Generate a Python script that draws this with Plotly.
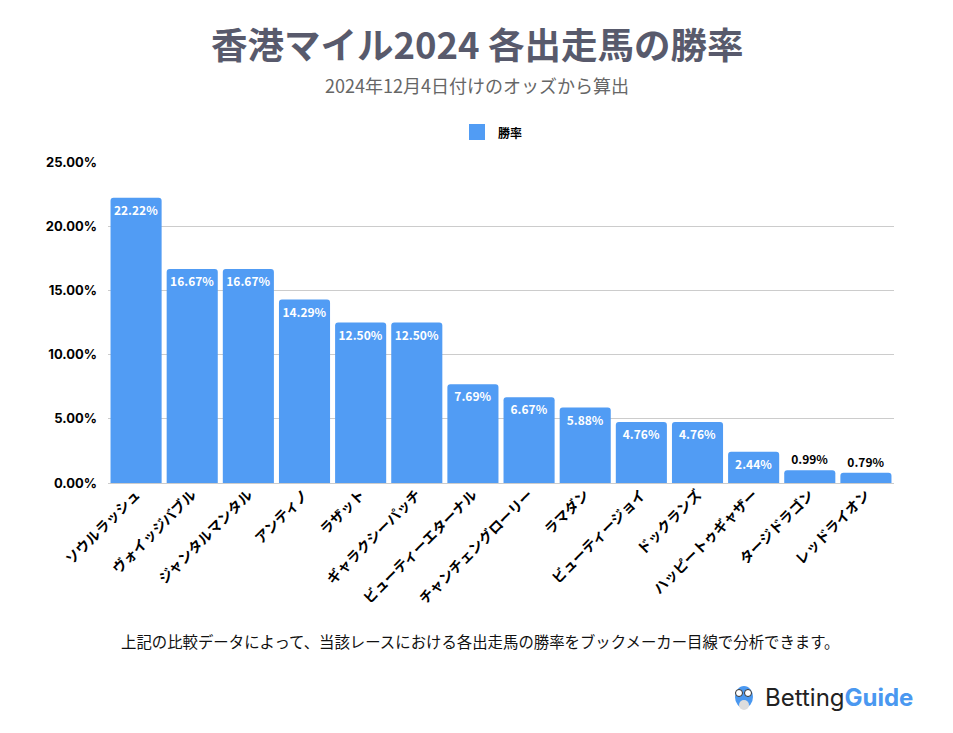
import plotly.graph_objects as go

horses = ['ソウルラッシュ', 'ヴォイッジバブル', 'ジャンタルマンタル', 'アンティノ', 'ラザット',
          'ギャラクシーパッチ', 'ビューティーエターナル', 'チャンチェングローリー', 'ラマダン',
          'ビューティージョイ', 'ドックランズ', 'ハッピートゥギャザー', 'タージドラゴン', 'レッドライオン']
win_rate = [0.2222, 0.1667, 0.1667, 0.1429, 0.1250, 0.1250, 0.0769, 0.0667, 0.0588,
            0.0476, 0.0476, 0.0244, 0.0099, 0.0079]
y_ticks = [0, 0.05, 0.10, 0.15, 0.20, 0.25]

FONT = 'Noto Sans CJK JP'
BLUE = '#519cf4'

labels = [f'{v * 100:.2f}%' for v in win_rate]
positions = ['inside' if v > 0.02 else 'outside' for v in win_rate]

# plot area in page pixels (page has an 8px body margin)
PL, PR, PT, PB = 108, 894, 162, 483


def px_x(x):
    return (x - PL) / (PR - PL)


def px_y(y):
    return (PB - y) / (PB - PT)


fig = go.Figure()
fig.add_trace(go.Bar(
    x=horses, y=win_rate, name='勝率',
    marker=dict(color=BLUE, cornerradius=3, line=dict(width=0)),
    text=labels, textposition=positions, textangle=0,
    insidetextanchor='end', constraintext='none',
    insidetextfont=dict(family=FONT, size=12, color='white', weight='bold'),
    outsidetextfont=dict(family=FONT, size=12, color='black', weight='bold'),
    cliponaxis=False,
))

fig.update_layout(
    width=953, height=733,
    paper_bgcolor='white', plot_bgcolor='white',
    margin=dict(l=PL - 8, r=953 + 8 - PR, t=PT - 8, b=733 + 8 - PB),
    font=dict(family=FONT, color='black'),
    bargap=0.09,
    showlegend=False,
    xaxis=dict(tickangle=-45, tickfont=dict(size=14, weight='bold'), showgrid=False,
               showline=False, ticks=''),
    yaxis=dict(range=[0, 0.25], tickvals=y_ticks, tickformat='.2%',
               tickfont=dict(family='Inter', size=13, weight='bold'), gridcolor='#cccccc', gridwidth=1,
               zeroline=True, zerolinecolor='#cccccc', zerolinewidth=1, ticks='',
               ticklabelstandoff=10),
)

# legend
fig.add_shape(type='rect', xref='paper', yref='paper',
              x0=px_x(469), x1=px_x(485), y0=px_y(140), y1=px_y(124),
              fillcolor=BLUE, line=dict(width=0))
fig.add_annotation(text='<b>勝率</b>', xref='paper', yref='paper',
                   x=px_x(496), y=px_y(132), xanchor='left', yanchor='middle', showarrow=False,
                   font=dict(family=FONT, size=12, color='black'))

fig.add_annotation(text='香港マイル2024 各出走馬の勝率', xref='paper', yref='paper',
                   x=px_x(477), y=px_y(44), xanchor='center', yanchor='middle', showarrow=False,
                   font=dict(family=FONT, size=36.5, color='#585a6c', weight='bold'))
fig.add_annotation(text='2024年12月4日付けのオッズから算出', xref='paper', yref='paper',
                   x=px_x(477), y=px_y(85), xanchor='center', yanchor='middle', showarrow=False,
                   font=dict(family=FONT, size=18, color='#666666'))
fig.add_annotation(text='上記の比較データによって、当該レースにおける各出走馬の勝率をブックメーカー目線で分析できます。',
                   xref='paper', yref='paper', x=px_x(119), y=px_y(641),
                   xanchor='left', yanchor='middle', showarrow=False,
                   font=dict(family=FONT, size=15.4, color='#111111'))
fig.add_annotation(text="<span style='color:#222222'>Betting</span><b><span style='color:#4a98f0'>Guide</span></b>",
                   xref='paper', yref='paper', x=px_x(763), y=px_y(697),
                   xanchor='left', yanchor='middle', showarrow=False,
                   font=dict(family='Inter', size=24))

# small owl logo
fig.add_shape(type='circle', xref='paper', yref='paper', layer='above',
              x0=px_x(735), x1=px_x(753), y0=px_y(708), y1=px_y(686),
              fillcolor='#4a98f0', line=dict(width=0))
for ex in (739, 748):
    fig.add_shape(type='circle', xref='paper', yref='paper', layer='above',
                  x0=px_x(ex - 3.5), x1=px_x(ex + 3.5), y0=px_y(696.5), y1=px_y(689.5),
                  fillcolor='white', line=dict(color='#333333', width=1))
fig.add_shape(type='circle', xref='paper', yref='paper', layer='above',
              x0=px_x(739), x1=px_x(749), y0=px_y(710), y1=px_y(700),
              fillcolor='#dddddd', line=dict(width=0))

fig.write_html('out.html')
